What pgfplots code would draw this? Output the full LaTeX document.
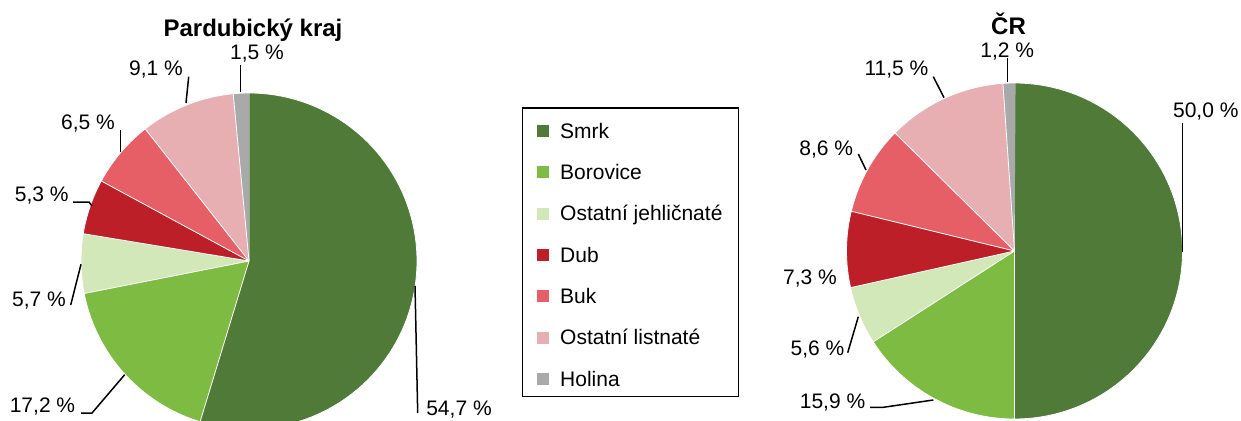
\documentclass[border=0pt]{standalone}
\usepackage{pgfplots}
\pgfplotsset{compat=1.18}
\usepackage{fontspec}
\setmainfont{Liberation Sans}
\definecolor{cSmrk}{HTML}{507A38}
\definecolor{cBor}{HTML}{7DBB42}
\definecolor{cOJ}{HTML}{D3E8B8}
\definecolor{cDub}{HTML}{BD1F28}
\definecolor{cBuk}{HTML}{E65F66}
\definecolor{cOL}{HTML}{E8AFB2}
\definecolor{cHol}{HTML}{A9A9A9}
% data: percent / colour, clockwise from 12 o'clock
\def\pardData{54.7/cSmrk,17.2/cBor,5.7/cOJ,5.3/cDub,6.5/cBuk,9.1/cOL,1.5/cHol}
\def\crData{50.0/cSmrk,15.9/cBor,5.6/cOJ,7.3/cDub,8.6/cBuk,11.5/cOL,1.2/cHol}
\newcommand\pie[4]{%
  \gdef\cum{0}%
  \foreach \v/\col in #4 {%
    \pgfmathsetmacro\a{3.6*\cum}%
    \pgfmathsetmacro\b{3.6*(\cum+\v)}%
    \edef\temp{\noexpand\addplot[fill=\col, draw=white, line width=0.8bp, samples at={-1,0,1,...,200}]
      ({ifthenelse(x<0,#1,#1+#3*sin(\a+(\b-\a)*x/200))},
       {ifthenelse(x<0,#2,#2-#3*cos(\a+(\b-\a)*x/200))});}%
    \temp
    \pgfmathsetmacro\newcum{\cum+\v}\xdef\cum{\newcum}%
  }}
\begin{document}
\fontsize{21bp}{25bp}\selectfont
\begin{tikzpicture}
\begin{axis}[
  scale only axis, width=1241bp, height=421bp,
  xmin=0, xmax=1241, ymin=0, ymax=421, y dir=reverse,
  hide axis, clip=true,
]
\pie{249}{261}{168}{\pardData}
\pie{1014.5}{251}{168}{\crData}
\end{axis}
\begin{axis}[
  scale only axis, width=1241bp, height=421bp,
  xmin=0, xmax=1241, ymin=0, ymax=421, y dir=reverse,
  hide axis, clip=false,
]
% titles
\node[anchor=base, inner sep=0, font=\fontsize{24bp}{28bp}\selectfont\bfseries] at (axis cs:253,36.7) {Pardubický kraj};
\node[anchor=base, inner sep=0, font=\fontsize{24bp}{28bp}\selectfont\bfseries] at (axis cs:1008.5,34.3) {ČR};
% left labels
\tikzset{lab/.style={anchor=base, inner sep=0}}
\node[lab] at (axis cs:257,60) {1,5 \%};
\node[lab] at (axis cs:156,76) {9,1 \%};
\node[lab] at (axis cs:88,129) {6,5 \%};
\node[lab] at (axis cs:41.7,201.5) {5,3 \%};
\node[lab] at (axis cs:39,306) {5,7 \%};
\node[lab] at (axis cs:42.5,412.7) {17,2 \%};
\node[lab] at (axis cs:459,415) {54,7 \%};
\draw[line width=1.5bp] (axis cs:240.7,65) -- (axis cs:240.7,92);
\draw[line width=1.5bp] (axis cs:188.7,76.7) -- (axis cs:186,103);
\draw[line width=1.5bp] (axis cs:120.7,130) -- (axis cs:120.7,152);
\draw[line width=1.5bp] (axis cs:73,202) -- (axis cs:89,202) -- (axis cs:92,206);
\draw[line width=1.5bp] (axis cs:70.7,305) -- (axis cs:81,264.3);
\draw[line width=1.5bp] (axis cs:81,413) -- (axis cs:92,413) -- (axis cs:124.7,374.7);
\draw[line width=1.5bp] (axis cs:415,286) -- (axis cs:417.7,413);
% right labels
\node[lab] at (axis cs:1007.3,57.3) {1,2 \%};
\node[lab] at (axis cs:896.5,76) {11,5 \%};
\node[lab] at (axis cs:826.3,155) {8,6 \%};
\node[lab] at (axis cs:810,284) {7,3 \%};
\node[lab] at (axis cs:817.5,355) {5,6 \%};
\node[lab] at (axis cs:832.5,408.3) {15,9 \%};
\node[lab] at (axis cs:1205.8,117.3) {50,0 \%};
\draw[line width=1.5bp] (axis cs:1007.7,58) -- (axis cs:1007.7,82);
\draw[line width=1.5bp] (axis cs:933.3,76.7) -- (axis cs:944,97.7);
\draw[line width=1.5bp] (axis cs:858.3,154) -- (axis cs:866,170);
\draw[line width=1.5bp] (axis cs:847.7,352.7) -- (axis cs:858.3,316.7);
\draw[line width=1.5bp] (axis cs:870,407.3) -- (axis cs:883.3,407.3) -- (axis cs:933.3,400);
\draw[line width=1.5bp] (axis cs:1182.7,122.7) -- (axis cs:1182.7,251.7);
% legend
\draw[line width=1.5bp] (axis cs:522.3,108) rectangle (axis cs:738.7,396.7);
\foreach \yy/\col/\lbl in {131/cSmrk/Smrk,172.3/cBor/Borovice,213.7/cOJ/Ostatní jehličnaté,255/cDub/Dub,296.3/cBuk/Buk,337.7/cOL/Ostatní listnaté,379/cHol/Holina}{
  \pgfmathsetmacro\ya{\yy-6}\pgfmathsetmacro\yb{\yy+6}\pgfmathsetmacro\yt{\yy+7}%
  \edef\temp{\noexpand\fill[\col] (axis cs:537.3,\ya) rectangle (axis cs:549.3,\yb);
    \noexpand\node[anchor=base west, inner sep=0] at (axis cs:560,\yt) {\lbl};}%
  \temp
}
\end{axis}
\pgfresetboundingbox
\path (0,0) rectangle (1241bp,421bp);
\end{tikzpicture}
\end{document}
